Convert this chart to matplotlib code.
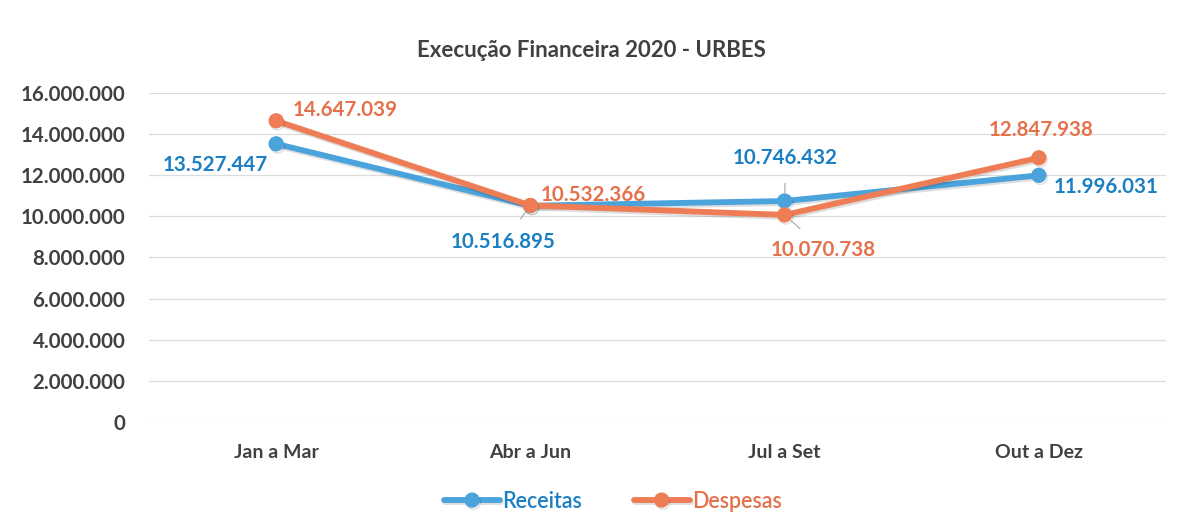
import matplotlib
matplotlib.use("Agg")
import matplotlib.pyplot as plt
import matplotlib.patheffects as pe
from matplotlib.ticker import FuncFormatter, MultipleLocator

plt.rcParams['font.family'] = ['Lato', 'DejaVu Sans']

periodos = ["Jan a Mar", "Abr a Jun", "Jul a Set", "Out a Dez"]
receitas = [13527447, 10516895, 10746432, 11996031]
despesas = [14647039, 10532366, 10070738, 12847938]

# label offsets in pixels (dx, dy) from each point
off_rec = [(-61, -21), (-27, -36), (1, 43), (67, -12)]
off_desp = [(69, 11), (63, 10), (39, -35), (2, 28)]
leader_rec = [False, True, True, False]
leader_desp = [False, False, True, True]

line_blue = "#4ba3dc"
line_orange = "#ee7d55"
txt_blue = "#1b7fc3"
txt_orange = "#e5714a"
dark = "#404040"


def fmt(v):
    return "{:,}".format(int(v)).replace(",", ".")


fig = plt.figure(figsize=(11.83, 5.32), dpi=100)
ax = fig.add_axes([0.126, 0.2068, 0.8596, 0.6184])

x = list(range(len(periodos)))
shadow = [pe.SimpleLineShadow(offset=(1, -1.5), alpha=0.13, shadow_color="k"), pe.Normal()]

ax.plot(x, receitas, color=line_blue, lw=4.2, marker="o", ms=10,
        solid_capstyle="round", label="Receitas", path_effects=shadow, zorder=3)
ax.plot(x, despesas, color=line_orange, lw=4.2, marker="o", ms=10,
        solid_capstyle="round", label="Despesas", path_effects=shadow, zorder=4)


def put_labels(vals, offs, leaders, color):
    for xi, v, (dx, dy), ld in zip(x, vals, offs, leaders):
        kw = {}
        if ld:
            kw["arrowprops"] = dict(arrowstyle="-", color="#9a9a9a", lw=0.7,
                                    shrinkA=9, shrinkB=6)
        ax.annotate(fmt(v), (xi, v), xytext=(dx, dy), textcoords="offset pixels",
                    ha="center", va="center", fontsize=14.8, fontweight="bold",
                    color=color, zorder=5, **kw)


put_labels(receitas, off_rec, leader_rec, txt_blue)
put_labels(despesas, off_desp, leader_desp, txt_orange)

ax.set_xlim(-0.5, 3.5)
ax.set_ylim(0, 16000000)
ax.yaxis.set_major_locator(MultipleLocator(2000000))
ax.yaxis.set_major_formatter(FuncFormatter(lambda v, p: fmt(v)))
ax.set_xticks(x)
ax.set_xticklabels(periodos)
ax.grid(axis="y", color="#dcdcdc", lw=0.9)
ax.set_axisbelow(True)
for s in ax.spines.values():
    s.set_visible(False)
ax.tick_params(length=0, labelsize=14, labelcolor=dark)
ax.tick_params(axis="y", labelsize=14.8, pad=17)
ax.tick_params(axis="x", pad=16)
for t in ax.get_xticklabels() + ax.get_yticklabels():
    t.set_fontweight("bold")

fig.text(0.5, 0.906, "Execução Financeira 2020 - URBES", ha="center", va="center",
         fontsize=16, fontweight="bold", color=dark)

leg = fig.legend(loc="center", bbox_to_anchor=(0.518, 0.058), ncol=2, frameon=False,
                 fontsize=15.5, handlelength=2.6, columnspacing=2.4, handletextpad=0.1)
for t, c in zip(leg.get_texts(), [txt_blue, txt_orange]):
    t.set_color(c)
    t.set_fontweight("semibold")

fig.savefig("out.png", dpi=100)
